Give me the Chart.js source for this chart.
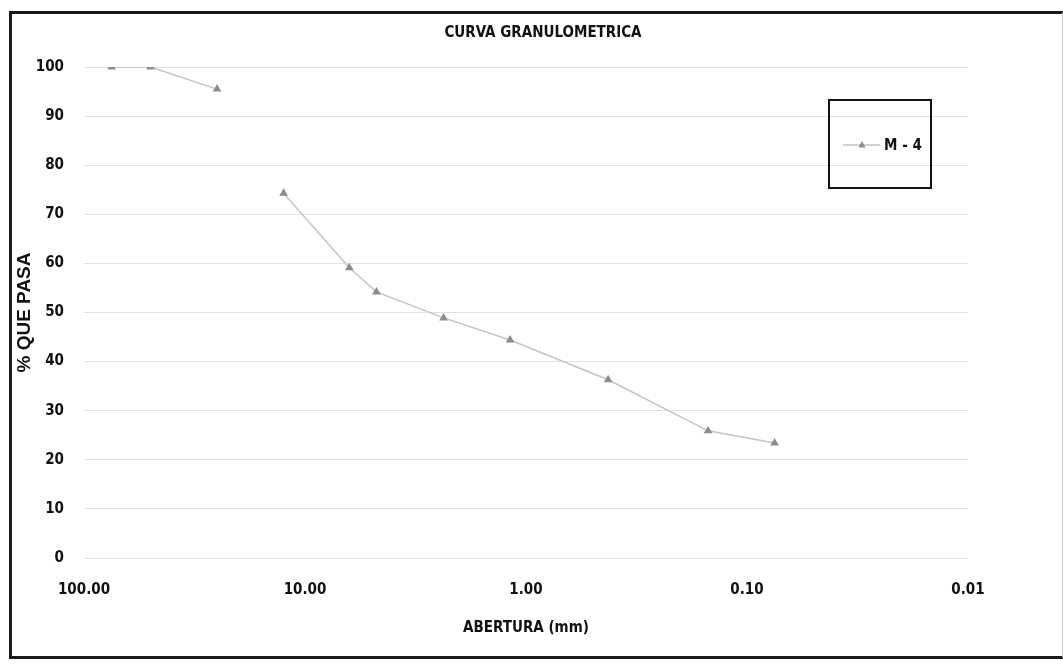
<!DOCTYPE html>
<html>
<head>
<meta charset="utf-8">
<script src="https://cdn.jsdelivr.net/npm/chart.js@4.4.0/dist/chart.umd.min.js"></script>
<style>
  html, body { margin: 0; padding: 0; background: #fff; }
  #wrap { position: relative; width: 1063px; height: 664px; }
  #frame {
    position: absolute; left: 9px; top: 11px; width: 1050px; height: 642px;
    border-top: 3px solid #1a1a1a; border-left: 3px solid #1a1a1a;
    border-bottom: 3px solid #1a1a1a; border-right: 1px solid #d0d0d0;
  }
  #chart { position: absolute; left: 0; top: 0; }
</style>
</head>
<body>
<div id="wrap">
  <div id="frame"></div>
  <canvas id="chart" width="1063" height="664"></canvas>
</div>
<script>
// sieve openings (mm) and % passing
// the 19 mm sieve has no value, so the curve breaks there
const aberturas = [75, 50, 25, 19, 12.5, 6.3, 4.75, 2.36, 1.18, 0.425, 0.15, 0.075];
const pasa = [100, 100, 95.5, null, 74.3, 59.1, 54.2, 48.9, 44.4, 36.3, 25.9, 23.4];
const serieNombre = 'M - 4';
const xTicks = [100, 10, 1, 0.1, 0.01];
const yTicks = [0, 10, 20, 30, 40, 50, 60, 70, 80, 90, 100];

const narrow = "'Liberation Sans Narrow', 'DejaVu Sans Condensed', 'Liberation Sans', sans-serif";
const lineColor = '#c4c4c4';
const pointColor = '#8c8c8c';

let points = [];
aberturas.forEach((a, i) => {
    points.push({x: a, y: pasa[i]});
});

// legend box drawn inside the plot, like the excel one
const boxLegend = {
    id: 'boxLegend',
    afterDraw(chart) {
        const ctx = chart.ctx;
        const ds = chart.data.datasets[0];
        ctx.save();
        ctx.strokeStyle = '#111';
        ctx.lineWidth = 2;
        ctx.strokeRect(829, 100, 102, 88);
        ctx.strokeStyle = lineColor;
        ctx.lineWidth = 1.5;
        ctx.beginPath();
        ctx.moveTo(843, 145);
        ctx.lineTo(880, 145);
        ctx.stroke();
        ctx.fillStyle = pointColor;
        ctx.beginPath();
        ctx.moveTo(862, 141);
        ctx.lineTo(865.5, 147.5);
        ctx.lineTo(858.5, 147.5);
        ctx.closePath();
        ctx.fill();
        ctx.fillStyle = '#111';
        ctx.font = "bold 15px " + narrow;
        ctx.textBaseline = 'middle';
        ctx.fillText(ds.label, 884, 146);
        ctx.restore();
    }
};

const config = {
    type: 'line',
    data: {
        datasets: [{
            label: serieNombre,
            data: points,
            borderColor: lineColor,
            borderWidth: 1.5,
            backgroundColor: pointColor,
            pointStyle: 'triangle',
            pointRadius: 3.5,
            pointBorderColor: pointColor,
            pointBackgroundColor: pointColor,
            spanGaps: false,
            tension: 0
        }]
    },
    options: {
        responsive: false,
        animation: false,
        layout: { padding: { top: 24, right: 0, bottom: 27, left: 23 } },
        plugins: {
            legend: { display: false },
            tooltip: { enabled: false },
            title: {
                display: true,
                text: 'CURVA GRANULOMETRICA',
                color: '#111',
                font: { family: narrow, size: 15, weight: 'bold' },
                padding: { top: 0, bottom: 25 }
            }
        },
        scales: {
            x: {
                type: 'logarithmic',
                reverse: true,
                min: 0.01,
                max: 100,
                afterBuildTicks: function(scale) {
                    scale.ticks = xTicks.map(v => ({value: v}));
                },
                afterFit: function(scale) { scale.height = 79; },
                ticks: {
                    autoSkip: false,
                    maxRotation: 0,
                    color: '#111',
                    padding: 23,
                    font: { family: narrow, size: 15, weight: 'bold' },
                    callback: function(value) { return Number(value).toFixed(2); }
                },
                grid: { display: false, drawTicks: false },
                border: { display: false },
                title: {
                    display: true,
                    text: 'ABERTURA (mm)',
                    color: '#111',
                    font: { family: narrow, size: 15, weight: 'bold' },
                    padding: { top: 20, bottom: 0 }
                }
            },
            y: {
                min: 0,
                max: 100,
                afterBuildTicks: function(scale) {
                    scale.ticks = yTicks.map(v => ({value: v}));
                },
                afterFit: function(scale) { scale.width = 61; },
                ticks: {
                    color: '#111',
                    padding: 20,
                    font: { family: narrow, size: 15, weight: 'bold' }
                },
                grid: { color: '#e2e2e2', lineWidth: 1, drawTicks: false },
                border: { display: false },
                title: {
                    display: true,
                    text: '% QUE PASA',
                    color: '#111',
                    font: { family: "'Liberation Sans', sans-serif", size: 19, weight: 'bold' },
                    padding: { top: -10, bottom: 0 }
                }
            },
            // empty space on the right of the plot, keeps the title centred like the original
            derecha: {
                type: 'linear',
                position: 'right',
                afterFit: function(scale) { scale.width = 95; },
                ticks: { display: false },
                grid: { display: false, drawTicks: false },
                border: { display: false }
            }
        }
    },
    plugins: [boxLegend]
};

const chart = new Chart(document.getElementById('chart'), config);
</script>
</body>
</html>
